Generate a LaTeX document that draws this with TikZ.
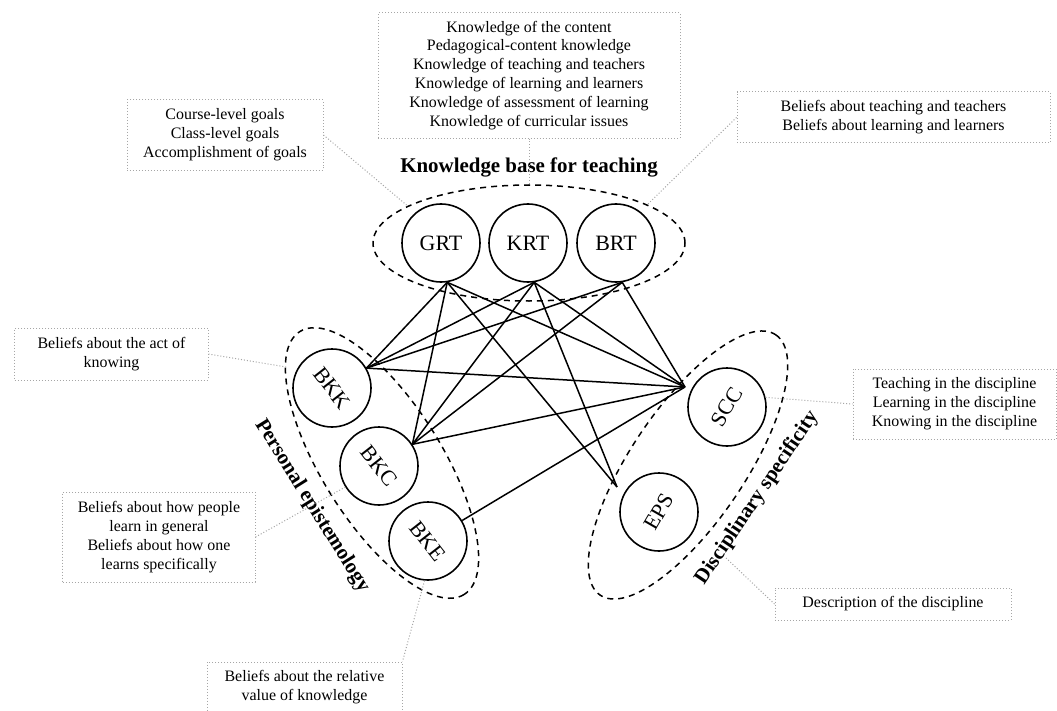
\documentclass[tikz,border=0pt]{standalone}
\usepackage{fontspec}
\setmainfont{Liberation Serif}
\usetikzlibrary{shapes.geometric}
\begin{document}
\begin{tikzpicture}[x=1bp,y=-1bp,
  construct/.style={circle,draw,line width=1.6bp,minimum size=78bp,inner sep=0pt,
    font=\fontsize{22}{24}\selectfont},
  grouplabel/.style={font=\fontsize{21}{24}\selectfont\bfseries,inner sep=0pt},
  groupline/.style={dash pattern=on 6bp off 5bp,line width=1.5bp},
  link/.style={line width=1.5bp},
  infobox/.style={draw=gray!70,dotted,line width=1bp,align=center,inner sep=0pt,
    font=\fontsize{16}{19}\selectfont},
  leader/.style={draw=gray!70,dotted,line width=1bp},
]
\useasboundingbox[fill=white] (0,0) rectangle (1057,711);

% --- knowledge base for teaching ---
\node[construct] (GRT) at (441,243) {GRT};
\node[construct] (KRT) at (528,243) {KRT};
\node[construct] (BRT) at (616,243) {BRT};
\node[draw,ellipse,groupline,minimum width=312bp,minimum height=116bp,inner sep=0pt] (KB) at (529,243) {};
\node[grouplabel] (KBlabel) at (529,167) {Knowledge base for teaching};

% --- personal epistemology ---
\node[construct] (BKK) at (332,388) {\rotatebox{-52}{BKK}};
\node[construct] (BKC) at (379,466) {\rotatebox{-52}{BKC}};
\node[construct] (BKE) at (428,541) {\rotatebox{-52}{BKE}};
\draw[groupline,rotate around={-58:(382,463)}] (382,463) ellipse [x radius=155, y radius=60];
\node[grouplabel,rotate=-58] (PElabel) at (312,506) {Personal epistemology};
\coordinate (PEknow) at (286,367);

% --- disciplinary specificity ---
\node[construct] (SCC) at (727,407) {\rotatebox{60}{SCC}};
\node[construct] (EPS) at (659,512) {\rotatebox{60}{EPS}};
\draw[groupline,rotate around={56:(688,465)}] (688,465) ellipse [x radius=157, y radius=57];
\node[grouplabel,rotate=56] (DSlabel) at (757,498) {Disciplinary specificity};
\coordinate (DSdesc) at (726,558);

% meeting points of the links beside SCC and EPS
\coordinate (hSCC) at ([shift={(-42,-20)}]SCC.center);
\coordinate (hEPS) at ([shift={(-42,-25)}]EPS.center);

% --- links between constructs ---
\foreach \t in {GRT,KRT,BRT}{
  \draw[link] (\t.-81) -- (BKK.30);
  \draw[link] (\t.-81) -- (BKC.33);
  \draw[link] (\t.-81) -- (hSCC);
}
\draw[link] (GRT.-81) -- (hEPS);
\draw[link] (KRT.-81) -- (hEPS);
\draw[link] (BKK.30) -- (hSCC);
\draw[link] (BKC.33) -- (hSCC);
\draw[link] (BKE.31) -- (hSCC);

% --- description boxes ---
\node[infobox,minimum width=302bp,minimum height=125bp] (facts) at (529,75.5)
  {Knowledge of the content\\Pedagogical-content knowledge\\Knowledge of teaching and teachers\\Knowledge of learning and learners\\Knowledge of assessment of learning\\Knowledge of curricular issues};
\node[infobox,minimum width=196bp,minimum height=70bp] (goals) at (225,135)
  {Course-level goals\\Class-level goals\\Accomplishment of goals};
\node[infobox,minimum width=313bp,minimum height=51bp] (beliefT) at (893.5,117.5)
  {Beliefs about teaching and teachers\\Beliefs about learning and learners};
\node[infobox,minimum width=193bp,minimum height=52bp] (actK) at (111.5,354)
  {Beliefs about the act of\\knowing};
\node[infobox,minimum width=192bp,minimum height=90bp] (learn) at (159,537)
  {Beliefs about how people\\learn in general\\Beliefs about how one\\learns specifically};
\node[infobox,minimum width=195bp,minimum height=50bp] (relval) at (304.5,687)
  {Beliefs about the relative\\value of knowledge};
\node[infobox,minimum width=203bp,minimum height=70bp] (teachD) at (954.5,404)
  {Teaching in the discipline\\Learning in the discipline\\Knowing in the discipline};
\node[infobox,minimum width=236bp,minimum height=32bp] (descD) at (893,604)
  {Description of the discipline};

% --- leaders from boxes to constructs ---
\draw[leader] (facts.south) -- (KB.north);
\draw[leader] (goals.east) -- (KB.163);
\draw[leader] (beliefT.west) -- (KB.18);
\draw[leader] (actK.east) -- (PEknow);
\draw[leader] (learn.east) -- (BKC.212);
\draw[leader] (BKE.265) -- (relval.north east);
\draw[leader] (SCC.14) -- (teachD.west);
\draw[leader] (DSdesc) -- (descD.west);
\end{tikzpicture}
\end{document}
